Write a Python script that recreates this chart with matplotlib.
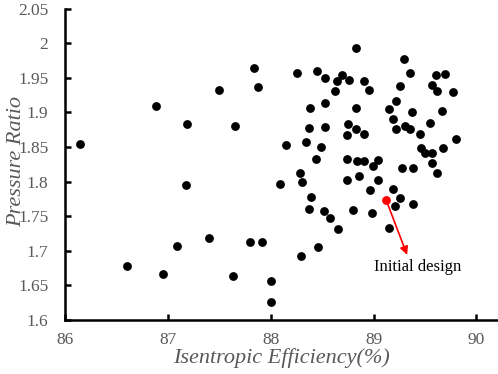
import matplotlib.pyplot as plt

# Datos: eficiencia isentrópica (%) y relación de presiones
eff = [86.146, 86.886, 87.184, 87.502, 87.655, 87.175, 86.606, 86.951, 87.093,
       87.404, 87.632, 87.803, 87.920, 88.002, 88.002, 87.842, 87.878, 88.092,
       88.290, 88.455, 88.657, 89.153, 88.387, 88.372, 88.514, 88.576, 88.796,
       88.985, 89.254, 89.205, 89.387,
       88.832, 89.292, 88.255, 88.450, 88.530, 88.689, 88.644, 88.761, 88.907,
       89.358, 89.604, 89.695, 88.621, 88.956, 89.260, 89.565, 89.620, 89.773,
       88.381, 88.524, 88.832, 89.150, 89.215, 89.374, 89.662, 88.375, 88.524,
       88.747, 88.832, 89.185, 89.221, 89.302, 89.358, 89.549, 88.745, 88.907,
       89.455, 88.151, 88.339, 88.489, 89.458, 89.504, 89.565, 89.672, 89.799,
       88.443, 88.738, 88.835, 88.907, 89.046, 88.991, 89.280, 89.384, 89.565,
       89.620, 88.284, 88.307, 88.742, 88.855, 89.043, 88.962, 89.189]
pr = [1.854, 1.909, 1.883, 1.932, 1.881, 1.795, 1.678, 1.667, 1.707,
      1.718, 1.663, 1.713, 1.713, 1.657, 1.626, 1.964, 1.937, 1.797,
      1.692, 1.706, 1.732, 1.733, 1.778, 1.761, 1.757, 1.747, 1.759,
      1.754, 1.776, 1.765, 1.768,
      1.993, 1.977, 1.957, 1.960, 1.949, 1.954, 1.946, 1.947, 1.946,
      1.957, 1.954, 1.955, 1.931, 1.932, 1.938, 1.940, 1.931, 1.930,
      1.906, 1.913, 1.906, 1.905, 1.917, 1.900, 1.902, 1.877, 1.879,
      1.883, 1.876, 1.891, 1.876, 1.881, 1.876, 1.884, 1.867, 1.869,
      1.869, 1.853, 1.857, 1.850, 1.848, 1.842, 1.841, 1.849, 1.861,
      1.833, 1.833, 1.830, 1.830, 1.831, 1.823, 1.819, 1.819, 1.827,
      1.813, 1.813, 1.799, 1.803, 1.808, 1.802, 1.788, 1.789]

# Diseño inicial
init_eff = 89.121
init_pr = 1.774
label_pos = (89.43, 1.677)

plt.rcParams['font.family'] = ['Liberation Serif', 'DejaVu Serif']
grey = '#595959'

fig = plt.figure(figsize=(4.98, 3.74), dpi=100)
ax = fig.add_axes([0.1305, 0.1444, 0.8675, 0.8326])

ax.scatter(eff, pr, s=40, c='black', linewidths=0, zorder=3)
ax.scatter([init_eff], [init_pr], s=40, c='red', linewidths=0, zorder=4)

ax.annotate('', xy=(89.326, 1.694), xytext=(init_eff, init_pr),
            arrowprops=dict(arrowstyle='-|>', color='red', lw=1.2,
                            mutation_scale=12, shrinkA=0, shrinkB=0))
ax.text(label_pos[0], label_pos[1], 'Initial design', fontsize=12,
        ha='center', va='center', color='black')

ax.set_xlim(86, 90.2)
ax.set_ylim(1.6, 2.05)
ax.set_xticks([86, 87, 88, 89, 90])
ax.set_xticklabels(['86', '87', '88', '89', '90'])
yt = [1.6, 1.65, 1.7, 1.75, 1.8, 1.85, 1.9, 1.95, 2.0, 2.05]
ax.set_yticks(yt)
ax.set_yticklabels(['1.6', '1.65', '1.7', '1.75', '1.8', '1.85', '1.9',
                    '1.95', '2', '2.05'])

for s in ['top', 'right']:
    ax.spines[s].set_visible(False)
for s in ['left', 'bottom']:
    ax.spines[s].set_linewidth(1.8)
ax.tick_params(direction='in', length=4, width=1.8, labelsize=12.5,
               labelcolor=grey)
ax.tick_params(axis='y', pad=12)
ax.tick_params(axis='x', pad=9)

ax.set_xlabel('Isentropic Efficiency(%)', fontsize=16, style='italic',
              color=grey, labelpad=0)
ax.set_ylabel('Pressure Ratio', fontsize=16, style='italic', color=grey)
ax.yaxis.set_label_coords(-0.09, 0.51)

fig.savefig('out.png', dpi=100)
